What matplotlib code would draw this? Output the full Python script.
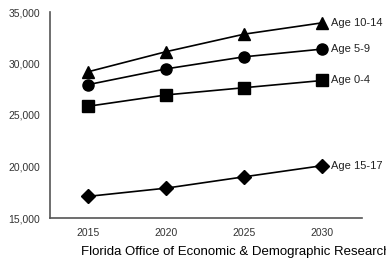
import matplotlib
matplotlib.use("Agg")
import matplotlib.pyplot as plt

years = [2015, 2020, 2025, 2030]
age_10_14 = [29200, 31150, 32850, 33950]
age_5_9 = [27950, 29480, 30650, 31400]
age_0_4 = [25850, 26950, 27650, 28350]
age_15_17 = [17100, 17900, 19000, 20080]

series = [
    ("Age 10-14", age_10_14, "^"),
    ("Age 5-9", age_5_9, "o"),
    ("Age 0-4", age_0_4, "s"),
    ("Age 15-17", age_15_17, "D"),
]
yticks = [15000, 20000, 25000, 30000, 35000]

plt.rcParams["font.family"] = ["Liberation Sans", "DejaVu Sans"]

fig = plt.figure(figsize=(3.86, 2.62), dpi=100)
ax = fig.add_axes([50 / 386, 1 - 218 / 262, 312 / 386, 206 / 262])

for name, vals, mk in series:
    ms = 7 if mk == "D" else 8
    ax.plot(years, vals, color="black", lw=1.2, marker=mk, markersize=ms)
    ax.annotate(name, (years[-1], vals[-1]), xytext=(6, 0),
                textcoords="offset points", va="center", ha="left",
                fontsize=8, color="#222222")

ax.set_xlim(2012.55, 2032.55)
ax.set_ylim(15000, 35000)
ax.set_xticks(years)
ax.set_yticks(yticks)
ax.set_yticklabels([f"{v:,}" for v in yticks])
ax.tick_params(length=0, labelsize=7.5, colors="#333333", pad=7)
for s in ["top", "right"]:
    ax.spines[s].set_visible(False)
for s in ["left", "bottom"]:
    ax.spines[s].set_color("#555555")
    ax.spines[s].set_linewidth(1.2)

fig.text(81 / 386, 1 - 252 / 262, "Florida Office of Economic & Demographic Research",
         fontsize=9.5, ha="left", va="center", color="black")

fig.savefig("out.png", dpi=100)
